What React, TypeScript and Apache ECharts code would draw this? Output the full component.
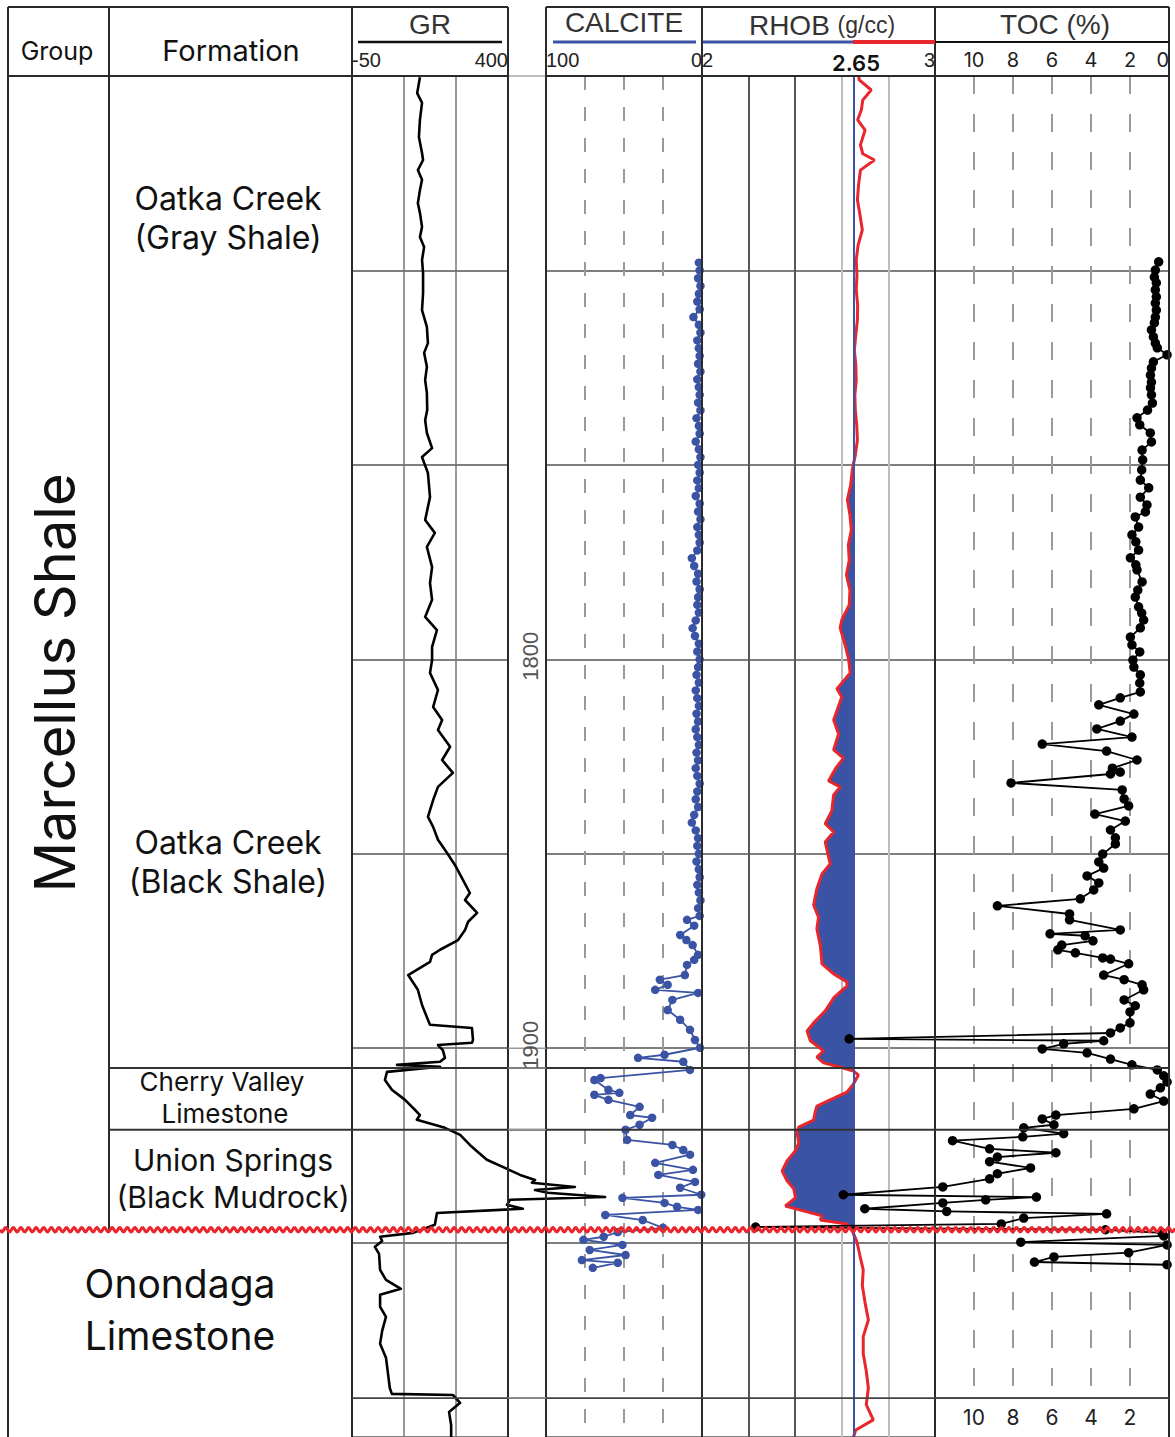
import { useEffect, useRef } from "react";
import * as echarts from "echarts";

const W = 1175;
const H = 1437;

// ---- depth axis ----
const DEPTH_MIN = 1650;
const DEPTH_MAX = 2000;
const DEPTH_STEP = 50;
const TOC_DEPTH_MAX = 1990;
const DEPTH_LABELS = [1800, 1900];
const FORMATION_TOPS = [1905.1, 1921.0];
const UNCONFORMITY = 1946.7;
const EXTRA_DEPTH_LINES = [1990];
const DEPTH_COLUMN_LINES = [1900, 1905.1, 1921.0, 1990];

// ---- track scales / tick labels ----
const GR_MIN = -50, GR_MAX = 400, GR_STEP = 150;
const GR_TICK_LABELS = [-50, 400];
const CAL_MIN = 0, CAL_MAX = 100, CAL_STEP = 25;
const CAL_TICK_LABELS = [100, 0];
const RHOB_MIN = 2, RHOB_MAX = 3, RHOB_STEP = 0.2;
const RHOB_TICK_LABELS = [2, 3];
const RHOB_BASE = 2.65;
const TOC_MIN = 0, TOC_MAX = 12, TOC_STEP = 2;
const TOC_TICK_LABELS = [10, 8, 6, 4, 2, 0];
const TOC_BOTTOM_LABELS = [10, 8, 6, 4, 2];

// ---- data: [depth, value] ----
const GR: [number, number][] = [
  [1650.3,146],[1654.4,138],[1656.9,152],[1661.3,146],[1665.7,143],[1669.8,152],[1671.6,155],[1674.2,140],[1676.7,152],[1679.3,146],[1682.7,140],[1685.2,146],[1688.8,152],[1691.4,146],[1694.0,158],[1697.3,152],[1700.7,155],[1705.8,155],[1710.2,152],[1714.5,166],[1718.7,169],[1721.2,158],[1724.8,166],[1728.2,161],[1731.5,166],[1735.9,167],[1738.5,161],[1741.8,166],[1745.7,181],[1748.0,152],[1752.1,169],[1758.3,175],[1764.2,161],[1767.5,189],[1771.1,166],[1776.3,181],[1780.4,175],[1784.7,181],[1789.1,161],[1792.5,195],[1796.8,181],[1800.2,181],[1803.5,175],[1807.9,198],[1812.3,184],[1815.6,210],[1818.2,198],[1822.5,233],[1825.9,210],[1829.2,241],[1832.8,198],[1836.2,184],[1840.5,169],[1843.1,184],[1846.4,198],[1849.0,218],[1852.9,247],[1856.7,270],[1860.1,290],[1861.9,276],[1865.2,311],[1867.5,285],[1869.6,276],[1872.2,256],[1874.7,204],[1876.0,181],[1877.8,175],[1881.2,112],[1885.0,140],[1888.9,152],[1892.7,169],[1894.0,175],[1894.8,296],[1897.9,299],[1898.6,296],[1899.2,198],[1900.5,212],[1902.5,218],[1903.5,204],[1904.3,80],[1904.8,204],[1906.1,51],[1908.2,45],[1910.7,65],[1913.3,103],[1915.9,132],[1917.2,146],[1918.4,137],[1920.5,218],[1922.3,262],[1924.9,290],[1926.7,313],[1928.7,339],[1930.8,391],[1932.6,435],[1933.9,478],[1934.6,469],[1935.7,593],[1936.5,478],[1937.2,515],[1938.3,680],[1939.0,406],[1940.3,397],[1941.3,443],[1942.4,195],[1945.4,189],[1947.5,126],[1948.5,31],[1949.6,37],[1951.1,16],[1952.9,28],[1957.0,31],[1959.6,48],[1961.9,91],[1963.4,31],[1966.5,31],[1969.1,48],[1972.7,37],[1976.0,31],[1979.6,48],[1983.8,54],[1987.4,59],[1988.9,65],[1989.2,241],[1991.2,262],[1993.6,230],[1996.9,236],[2000,236],
];

const CALCITE: [number, number][] = [
  [1698,2],[1700,1.5],[1702,2.5],[1704,1],[1706,2],[1708,3],[1710,1.5],[1712,5.5],[1714,2],[1716,1],[1718,3],[1720,2],[1722,1.5],[1724,2.5],[1726,1],[1728,3],[1730,2],[1732,1.5],[1734,2.5],[1736,1],[1738,3.5],[1740,2],[1742,1.5],[1744,4],[1746,2],[1748,1],[1750,2.5],[1752,1.5],[1754,3],[1756,2],[1758,4],[1760,1.5],[1762,2.5],[1764,1],[1766,3],[1768,2],[1770,1.5],[1772,3],[1774,6.5],[1776,5],[1778,2.5],[1780,3.5],[1782,1.5],[1784,2.5],[1786,3],[1788,2],[1790,4],[1792,6],[1794,4.5],[1796,2],[1798,3],[1800,1.5],[1802,2.5],[1804,3.5],[1806,2],[1808,4],[1810,3],[1812,2],[1814,3.5],[1816,2.5],[1818,4],[1820,3],[1822,2],[1824,3.5],[1826,2.5],[1828,4],[1830,3],[1832,1.5],[1834,3],[1836,4],[1838,2.5],[1840,5],[1842,6.5],[1844,4],[1846,2.5],[1848,3],[1850,2],[1852,3.5],[1854,2],[1856,1.5],[1858,3],[1860,2],[1862,1],[1864,2.5],[1866,1.5],
  [1867.0,9.6],[1868.5,5],[1870.9,14],[1872.2,10],[1873.5,6],[1876.0,2.5],[1877.3,5],[1878.6,9.6],[1881.2,11],[1882.4,27],[1883.7,22],[1885.0,30],[1885.8,2.5],[1887.6,19],[1890.2,22],[1892.7,14],[1895.3,7.7],[1897.9,4.5],[1899.9,1.3],[1901.7,24],[1902.5,41],[1903.5,12],[1905.6,7.7],[1907.7,65],[1908.2,69],[1910.7,60],[1911.5,53],[1912.0,69],[1913.3,60],[1915.1,40],[1917.2,46],[1917.9,32],[1919.7,40],[1921.0,49],[1923.6,48],[1924.9,19],[1926.2,12],[1927.4,7.7],[1929.5,30],[1931.3,5.8],[1932.6,28],[1934.4,4.5],[1935.9,14],[1937.7,0.5],[1938.5,51],[1939.8,24],[1940.8,16],[1941.6,2.5],[1942.9,62],[1944.2,38],[1946.2,25],[1947.3,54],[1948.5,63],[1949.3,76],[1950.6,51],[1951.9,72],[1953.2,49],[1954.5,77],[1955.2,54],[1956.5,70],
];

const RHOB: [number, number][] = [
  [1650,2.672],[1651.0,2.675],[1653.6,2.726],[1656.2,2.69],[1658.7,2.684],[1661.3,2.668],[1663.9,2.70],[1667.7,2.68],[1670.0,2.69],[1671.6,2.74],[1674.2,2.68],[1678.0,2.672],[1681.9,2.667],[1685.7,2.678],[1689.6,2.688],[1693.5,2.67],[1697.3,2.662],[1701.2,2.665],[1705.0,2.662],[1708.9,2.668],[1712.7,2.667],[1716.6,2.66],[1720.5,2.654],[1724.3,2.66],[1728.2,2.662],[1732.0,2.656],[1735.9,2.658],[1739.7,2.664],[1743.6,2.667],[1747.5,2.658],[1751.3,2.645],[1755.2,2.638],[1759.0,2.624],[1762.9,2.635],[1766.7,2.641],[1770.6,2.628],[1774.5,2.632],[1778.3,2.62],[1782.2,2.635],[1786.0,2.632],[1789.9,2.60],[1791.9,2.593],[1796.3,2.614],[1799.9,2.629],[1803.5,2.636],[1807.6,2.579],[1809.7,2.60],[1812.0,2.586],[1815.6,2.565],[1819.2,2.586],[1823.3,2.565],[1825.4,2.607],[1828.2,2.572],[1831.3,2.543],[1832.8,2.593],[1834.9,2.565],[1839.0,2.557],[1842.3,2.529],[1844.4,2.565],[1847.0,2.529],[1852.6,2.55],[1855.2,2.515],[1859.0,2.493],[1863.2,2.479],[1866.3,2.50],[1869.3,2.493],[1873.7,2.508],[1878.3,2.515],[1880.9,2.565],[1883.0,2.622],[1884.0,2.622],[1887.1,2.565],[1890.4,2.529],[1893.5,2.479],[1895.6,2.451],[1898.1,2.465],[1899.7,2.50],[1900.7,2.522],[1902.3,2.493],[1903.8,2.522],[1905.1,2.607],[1905.9,2.65],[1906.9,2.671],[1909.2,2.65],[1911.3,2.622],[1913.3,2.55],[1914.9,2.493],[1916.4,2.486],[1918.5,2.479],[1920.3,2.415],[1921.8,2.408],[1924.4,2.415],[1926.4,2.401],[1929.0,2.365],[1931.6,2.344],[1934.1,2.365],[1936.2,2.394],[1938.5,2.401],[1940.6,2.358],[1942.1,2.451],[1943.1,2.515],[1944.2,2.508],[1945.2,2.622],[1946.7,2.643],[1949.6,2.664],[1953.4,2.678],[1957.0,2.692],[1961.0,2.688],[1965.5,2.70],[1969.9,2.714],[1974.2,2.692],[1978.6,2.692],[1983.0,2.705],[1987.4,2.714],[1991.7,2.705],[1995.6,2.735],[1998.2,2.66],[2000,2.65],
];

const TOC: [number, number][] = [
  [1697.8,0.53],[1699.9,0.7],[1701.7,0.75],[1703.2,0.65],[1705.0,0.7],[1706.8,0.65],[1708.4,0.7],[1710.2,0.65],[1712.0,0.7],[1713.5,0.75],[1715.3,0.9],[1717.1,0.8],[1718.7,0.7],[1719.9,0.6],[1721.7,0.1],[1723.5,0.8],[1725.1,0.9],[1726.9,0.95],[1728.7,0.9],[1730.2,0.95],[1732.0,0.9],[1734.1,0.85],[1735.9,1.1],[1737.9,1.64],[1739.7,1.5],[1741.8,0.96],[1744.1,0.9],[1746.2,1.38],[1748.7,1.35],[1751.3,1.4],[1753.9,1.47],[1755.9,1.04],[1758.3,1.47],[1760.3,1.13],[1762.1,1.21],[1763.4,1.73],[1766.0,1.56],[1768.0,1.9],[1769.8,1.7],[1771.9,1.56],[1773.9,1.98],[1775.7,1.7],[1777.0,1.64],[1780.1,1.38],[1782.2,1.6],[1784.0,1.73],[1786.5,1.56],[1788.1,1.4],[1789.9,1.3],[1791.9,1.47],[1794.3,1.98],[1796.3,1.9],[1798.1,1.5],[1800.2,1.85],[1802.0,1.8],[1804.0,1.47],[1806.1,1.5],[1808.4,1.47],[1809.9,2.5],[1811.7,3.6],[1814.1,1.8],[1815.9,2.5],[1817.9,3.7],[1820.0,1.9],[1821.8,6.5],[1823.6,3.2],[1825.9,1.64],[1828.0,2.9],[1829.0,2.5],[1829.5,3.0],[1831.8,8.1],[1833.6,2.4],[1835.9,2.3],[1837.7,2.07],[1839.8,3.8],[1841.6,2.24],[1843.9,3.0],[1845.9,2.75],[1847.5,2.75],[1850.1,3.4],[1852.1,3.6],[1853.7,3.35],[1855.7,4.2],[1857.5,3.6],[1859.3,3.86],[1861.6,4.55],[1863.4,8.8],[1865.5,5.1],[1867.0,5.1],[1869.6,2.5],[1870.6,6.1],[1871.1,4.3],[1872.4,3.9],[1873.5,5.5],[1874.7,5.7],[1875.5,4.8],[1876.8,3.4],[1877.1,3.0],[1878.3,2.07],[1881.2,3.35],[1882.4,2.3],[1883.7,1.38],[1885.0,1.3],[1887.6,2.3],[1889.1,1.73],[1890.7,2.0],[1893.5,2.0],[1894.8,2.5],[1896.1,3.0],[1897.6,16.4],[1898.1,3.35],[1898.9,5.4],[1900.2,6.5],[1901.2,4.2],[1902.8,3.0],[1904.3,1.9],[1905.6,0.6],[1907.1,0.27],[1908.7,0.1],[1910.2,0.44],[1911.8,0.96],[1913.6,0.27],[1915.6,1.8],[1917.2,5.8],[1918.2,6.5],[1919.7,5.9],[1920.5,7.45],[1922.0,5.4],[1922.8,7.5],[1923.8,11.1],[1925.9,9.2],[1926.9,5.8],[1928.0,8.8],[1929.2,9.2],[1930.8,7.1],[1932.3,8.8],[1933.6,9.2],[1935.7,11.6],[1937.7,16.7],[1938.3,6.8],[1939.0,9.4],[1939.8,11.6],[1941.3,15.6],[1942.0,11.4],[1942.6,3.2],[1943.7,7.45],[1945.2,8.6],[1946.0,21.2],[1946.7,3.26],[1947.5,0.36],[1948.3,0.27],[1949.9,7.6],[1950.6,0.1],[1952.6,2.07],[1953.7,5.9],[1955.0,6.9],[1955.7,0.1],
];

// ---- layout ----
const TRACK_TOP = 76;
const TRACK_H = H - TRACK_TOP;
const TOC_H = (TRACK_H * (TOC_DEPTH_MAX - DEPTH_MIN)) / (DEPTH_MAX - DEPTH_MIN);
const GR_BOX = { left: 352, width: 156 };
const CAL_BOX = { left: 546, width: 156 };
const RHOB_BOX = { left: 702, width: 233 };
const TOC_BOX = { left: 935, width: 234 };

const SANS = "Inter, 'Open Sans', sans-serif";
const ARIAL = "'Liberation Sans', Arial, sans-serif";
const BLUE = "#3a53a4";
const RED = "#e8262b";
const LINE = "#2a2a2a";

const pickLabel = (labels: number[]) => (v: number) => {
  const hit = labels.find((l) => Math.abs(l - v) < 1e-6);
  return hit === undefined ? "" : String(hit);
};

const depthAxis = (gridIndex: number, max = DEPTH_MAX) => ({
  type: "value",
  gridIndex,
  inverse: true,
  min: DEPTH_MIN,
  max,
  interval: DEPTH_STEP,
  axisLine: { show: false },
  axisTick: { show: false },
  axisLabel: { show: false },
  splitLine: { show: true, lineStyle: { color: "#555", width: 1.5 } },
});

const topLabel = (labels: number[], family: string, size: number, minAlign: string, maxAlign: string) => ({
  show: true,
  margin: 6,
  fontSize: size,
  color: "#222",
  fontFamily: family,
  showMinLabel: true,
  showMaxLabel: true,
  alignMinLabel: minAlign,
  alignMaxLabel: maxAlign,
  formatter: pickLabel(labels),
});

const grid = (box: { left: number; width: number }, height = TRACK_H) => ({
  left: box.left,
  top: TRACK_TOP,
  width: box.width,
  height,
  containLabel: false,
  outerBoundsMode: "none",
});

// a polyline drawn through the axes' scales, never clipped to its track
const curveSeries = (name: string, axis: number, data: [number, number][], color: string, width: number, z: number) => ({
  type: "custom",
  name,
  xAxisIndex: axis,
  yAxisIndex: axis,
  data: [[data[0][1], data[0][0]]],
  silent: true,
  clip: false,
  z,
  renderItem: (_p: any, api: any) => ({
    type: "polyline",
    shape: { points: data.map(([d, v]) => api.coord([v, d])) },
    style: { stroke: color, lineWidth: width, fill: null, lineJoin: "round" },
  }),
});

function buildOption() {
  return {
    animation: false,
    textStyle: { fontFamily: SANS },
    grid: [grid(GR_BOX), grid(CAL_BOX), grid(RHOB_BOX), grid(TOC_BOX, TOC_H)],
    xAxis: [
      {
        type: "value", gridIndex: 0, position: "top", min: GR_MIN, max: GR_MAX, interval: GR_STEP,
        axisLine: { show: false }, axisTick: { show: false },
        axisLabel: topLabel(GR_TICK_LABELS, ARIAL, 20, "left", "right"),
        splitLine: { show: true, lineStyle: { color: "#777", width: 1.5 } },
      },
      {
        type: "value", gridIndex: 1, position: "top", inverse: true, min: CAL_MIN, max: CAL_MAX, interval: CAL_STEP,
        axisLine: { show: false }, axisTick: { show: false },
        axisLabel: topLabel(CAL_TICK_LABELS, ARIAL, 20, "right", "left"),
        splitLine: { show: true, lineStyle: { color: "#9a9a9a", width: 2, type: [14, 17] } },
      },
      {
        type: "value", gridIndex: 2, position: "top", min: RHOB_MIN, max: RHOB_MAX, interval: RHOB_STEP,
        axisLine: { show: false }, axisTick: { show: false },
        axisLabel: topLabel(RHOB_TICK_LABELS, ARIAL, 20, "left", "right"),
        splitLine: { show: true, lineStyle: { color: ["#555", "#555", "#555", "#bdbdbd", "#bdbdbd", "#555"], width: 2 } },
      },
      {
        type: "value", gridIndex: 3, position: "top", inverse: true, min: TOC_MIN, max: TOC_MAX, interval: TOC_STEP,
        axisLine: { show: false }, axisTick: { show: false },
        axisLabel: topLabel(TOC_TICK_LABELS, SANS, 20, "right", "left"),
        splitLine: { show: true, lineStyle: { color: "#9a9a9a", width: 2, type: [18, 20] } },
      },
      {
        type: "value", gridIndex: 3, position: "bottom", inverse: true, min: TOC_MIN, max: TOC_MAX, interval: TOC_STEP,
        axisLine: { show: false }, axisTick: { show: false },
        axisLabel: { show: true, margin: 9, fontSize: 21, color: "#222", fontFamily: SANS, formatter: pickLabel(TOC_BOTTOM_LABELS) },
        splitLine: { show: false },
      },
    ],
    yAxis: [depthAxis(0), depthAxis(1), depthAxis(2), depthAxis(3, TOC_DEPTH_MAX)],
    series: [
      curveSeries("GR", 0, GR, "#000", 2.6, 3),
      {
        type: "line", name: "CALCITE", xAxisIndex: 1, yAxisIndex: 1,
        data: CALCITE.map(([d, v]) => [v, d]),
        symbol: "circle", symbolSize: 8.5, showSymbol: true, showAllSymbol: true, clip: false, z: 3,
        itemStyle: { color: BLUE },
        lineStyle: { color: BLUE, width: 1.8 },
      },
      {
        type: "custom", name: "RHOB fill", xAxisIndex: 2, yAxisIndex: 2,
        data: [[RHOB_BASE, DEPTH_MIN]], silent: true, z: 2, clip: false,
        renderItem: (_params: any, api: any) => {
          const pts = RHOB.map(([d, v]) => api.coord([Math.min(v, RHOB_BASE), d]));
          pts.push(api.coord([RHOB_BASE, RHOB[RHOB.length - 1][0]]));
          pts.push(api.coord([RHOB_BASE, RHOB[0][0]]));
          return { type: "polygon", shape: { points: pts }, style: { fill: BLUE, stroke: null } };
        },
      },
      {
        type: "line", name: "RHOB", xAxisIndex: 2, yAxisIndex: 2,
        data: RHOB.map(([d, v]) => [v, d]),
        symbol: "none", clip: false, z: 3,
        lineStyle: { color: RED, width: 3 },
        markLine: {
          silent: true, symbol: ["none", "none"], label: { show: false },
          lineStyle: { color: BLUE, width: 2, type: "solid" },
          data: [{ xAxis: RHOB_BASE }],
        },
      },
      curveSeries("TOC line", 3, TOC, "#000", 1.8, 5),
      {
        type: "scatter", name: "TOC", xAxisIndex: 3, yAxisIndex: 3,
        data: TOC.map(([d, v]) => [v, d]),
        symbol: "circle", symbolSize: 9.5, clip: false, z: 6,
        itemStyle: { color: "#000", opacity: 1 },
      },
    ],
  };
}

function buildGraphics(yOf: (d: number) => number) {
  const els: any[] = [];
  const line = (x1: number, y1: number, x2: number, y2: number, stroke = LINE, lw = 2, z = 10) =>
    els.push({ type: "line", silent: true, z, shape: { x1, y1, x2, y2 }, style: { stroke, lineWidth: lw } });
  const text = (t: string, x: number, y: number, size: number, o: any = {}) =>
    els.push({
      type: "text", silent: true, z: 20, x, y, rotation: o.rotation || 0,
      style: {
        text: t, fontSize: size, fontFamily: o.family || SANS, fontWeight: o.weight || "normal",
        fill: o.color || "#111", align: "center", verticalAlign: "middle",
        textAlign: "center", textVerticalAlign: "middle", rich: o.rich,
      },
    });

  const yU = yOf(UNCONFORMITY);

  // table frame
  line(8, 7, 508, 7);
  line(546, 7, 1169, 7);
  line(8, 76, 508, 76);
  line(546, 76, 1169, 76);
  line(508, 76, 546, 76, "#aaa", 1.5);
  line(8, 7, 8, H);
  line(109, 7, 109, yU);
  [352, 508, 546, 702, 935, 1169].forEach((x) => line(x, 7, x, H));

  // formation boundaries and extra depth lines
  FORMATION_TOPS.forEach((d) => line(109, yOf(d), 1169, yOf(d), "#333", 2));
  EXTRA_DEPTH_LINES.forEach((d) => line(352, yOf(d), 1169, yOf(d), "#444", 1.8));
  DEPTH_COLUMN_LINES.forEach((d) => line(508, yOf(d), 546, yOf(d), "#999", 1.5));

  // header
  text("Group", 57, 51, 25);
  text("Formation", 231, 50, 29);
  text("GR", 430, 24, 28, { family: ARIAL, color: "#333" });
  line(358, 42, 502, 42, "#111", 2.5);
  text("CALCITE", 624, 22, 28, { family: ARIAL, color: "#333" });
  line(553, 42, 696, 42, BLUE, 3);
  text("{a|RHOB} {b|(g/cc)}", 822, 25, 28, {
    family: ARIAL, color: "#333",
    rich: { a: { fontSize: 28, fontFamily: ARIAL, fill: "#333", color: "#333" }, b: { fontSize: 23, fontFamily: ARIAL, fill: "#333", color: "#333" } },
  });
  line(703, 42, 853, 42, BLUE, 3);
  line(853, 42, 935, 42, RED, 4);
  text(String(RHOB_BASE), 856, 63, 22, { weight: 600 });
  text("TOC (%)", 1055, 24, 28, { family: ARIAL, color: "#333" });
  line(935, 42, 1169, 42, "#111", 2);

  // depth labels
  DEPTH_LABELS.forEach((d) => text(String(d), 530, yOf(d) - 3, 22, { family: ARIAL, color: "#555", rotation: Math.PI / 2 }));

  // formation names
  text("Oatka Creek", 228, 198, 32);
  text("(Gray Shale)", 228, 237, 32);
  text("Oatka Creek", 228, 842, 32);
  text("(Black Shale)", 228, 881, 32);
  text("Cherry Valley", 222, 1081, 26);
  text("Limestone", 225, 1113, 26);
  text("Union Springs", 233, 1160, 30);
  text("(Black Mudrock)", 233, 1197, 30);
  text("Onondaga", 180, 1283, 39);
  text("Limestone", 180, 1335, 39);
  text("Marcellus Shale", 55, 683, 56, { rotation: Math.PI / 2 });

  // unconformity wavy line
  const pts: number[][] = [];
  for (let x = 0; x <= W; x += 1) pts.push([x, yU + 2.2 * Math.sin((x * 2 * Math.PI) / 7.6)]);
  els.push({ type: "polyline", silent: true, z: 30, shape: { points: pts }, style: { stroke: RED, lineWidth: 3, fill: null } });

  return els;
}

export default function App() {
  const ref = useRef<HTMLDivElement>(null);
  useEffect(() => {
    if (!ref.current) return;
    const chart = echarts.init(ref.current, null, { renderer: "svg" });
    chart.setOption(buildOption() as any);
    const yOf = (d: number) => chart.convertToPixel({ yAxisIndex: 0 } as any, d) as unknown as number;
    chart.setOption({ graphic: { elements: buildGraphics(yOf) } } as any);
    return () => chart.dispose();
  }, []);
  return (
    <div
      ref={ref}
      style={{ position: "absolute", left: 0, top: 0, width: W, height: H, background: "#fff" }}
    />
  );
}
